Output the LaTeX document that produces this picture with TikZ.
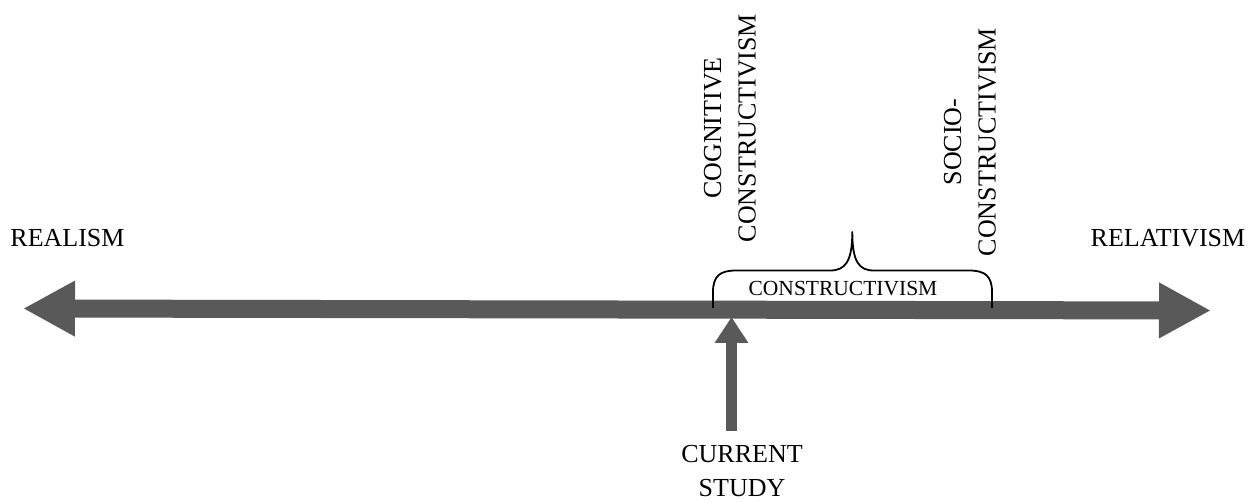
\documentclass[tikz,border=0pt]{standalone}
\usepackage{fontspec}
\setmainfont{Liberation Serif}
\usetikzlibrary{arrows.meta}
\definecolor{axisgray}{HTML}{595959}
\tikzset{
  biglabel/.style={inner sep=0pt, align=center, font=\fontsize{26}{34.5}\selectfont},
  smalllabel/.style={inner sep=0pt, font=\fontsize{21.5}{26}\selectfont},
  axisline/.style={draw=axisgray, line width=18pt,
    {Triangle[length=52pt,width=52pt]}-{Triangle[length=52pt,width=52pt]}},
  pointer/.style={draw=axisgray, line width=11.6pt, -{Triangle[length=26pt,width=32pt]}},
  bracepath/.style={draw=black, line width=1.8pt, line join=round}
}
\begin{document}
\begin{tikzpicture}[x=1pt,y=-1pt]
\useasboundingbox (0,0) rectangle (1256,502);

% the realism--relativism axis
\coordinate (leftend) at (23,308.5);
\coordinate (rightend) at (1211,310.5);
\draw[axisline] (leftend) -- (rightend);

\node[biglabel] (realism) at (67.5,238) {REALISM};
\node[biglabel] (relativism) at (1168,238) {RELATIVISM};

% position of the current study on the axis
\coordinate (studybase) at (731.5,431);
\coordinate (studytip) at (731.5,317);
\draw[pointer] (studybase) -- (studytip);
\node[biglabel] (study) at (742,471) {CURRENT\\STUDY};

% brace spanning the constructivist positions
\draw[bracepath] (713,308) -- (713,292)
  .. controls (713,276) and (720,270.5) .. (736,270.5) -- (830,270.5)
  .. controls (845,270.5) and (852.3,262) .. (852.3,232)
  .. controls (852.3,262) and (859,270.5) .. (874,270.5) -- (969,270.5)
  .. controls (985,270.5) and (992,276) .. (992,292) -- (992,308);
\node[smalllabel] (constructivism) at (843,289) {CONSTRUCTIVISM};

% vertical labels above the brace ends
\node[biglabel, rotate=90] (cognitive) at (730,128) {COGNITIVE\\CONSTRUCTIVISM};
\node[biglabel, rotate=90] (socio) at (970,142) {SOCIO-\\CONSTRUCTIVISM};
\end{tikzpicture}
\end{document}
